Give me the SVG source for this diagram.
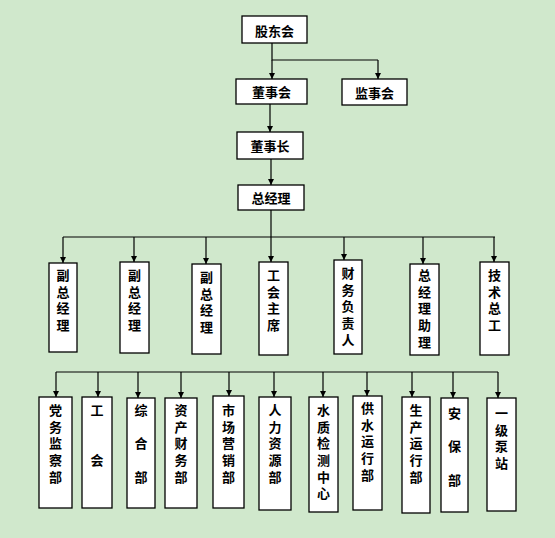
<svg xmlns="http://www.w3.org/2000/svg" width="555" height="538" viewBox="0 0 555 538">
<defs>
<marker id="ah" markerUnits="userSpaceOnUse" markerWidth="7" markerHeight="7" refX="6" refY="3" orient="auto">
<path d="M0,0 L6,3 L0,6 z" fill="#000"/>
</marker>
<style>
.bg{fill:#d0e8cc}
.box{fill:#fff;stroke:#000;stroke-width:1.3}
.t{font-family:"Noto Sans CJK SC","Noto Sans",sans-serif;font-size:13px;font-weight:bold;fill:#000;text-anchor:middle;dominant-baseline:central}
.v{font-family:"Noto Sans CJK SC","Noto Sans",sans-serif;font-size:13px;font-weight:bold;fill:#000;writing-mode:vertical-rl;text-orientation:upright;letter-spacing:3.7px}
.c{fill:none;stroke:#000;stroke-width:1.2}
.a{fill:none;stroke:#000;stroke-width:1.2;marker-end:url(#ah)}
</style>
</defs>
<rect class="bg" x="0" y="0" width="555" height="538"/>
<g id="connectors">
<path class="c" d="M272,43 V60 H378"/>
<path class="a" d="M272,60 V79"/>
<path class="a" d="M378,60 V79"/>
<path class="a" d="M270,104 V132"/>
<path class="a" d="M271,159 V185"/>
<path class="c" d="M271,210 V237"/>
<path class="c" d="M63,237 H495"/>
<path class="a" d="M63,237 V263"/>
<path class="a" d="M134,237 V262"/>
<path class="a" d="M206,237 V264"/>
<path class="a" d="M271,237 V262"/>
<path class="a" d="M344,237 V260"/>
<path class="a" d="M423,237 V264"/>
<path class="a" d="M494,237 V262"/>
<path class="c" d="M56,372 H498"/>
<path class="a" d="M56,372 V397"/>
<path class="a" d="M98,372 V397"/>
<path class="a" d="M138,372 V398"/>
<path class="a" d="M181,372 V398"/>
<path class="a" d="M229,372 V396"/>
<path class="a" d="M274,372 V397"/>
<path class="a" d="M323,372 V397"/>
<path class="a" d="M367,372 V396"/>
<path class="a" d="M412,372 V397"/>
<path class="a" d="M453,372 V398"/>
<path class="a" d="M498,372 V398"/>
</g>
<g id="n-gudonghui"><rect class="box" x="242" y="16" width="65" height="27"/><text class="t" x="274.5" y="30">股东会</text></g>
<g id="n-dongshihui"><rect class="box" x="236" y="79" width="71" height="25"/><text class="t" x="271.5" y="91.5">董事会</text></g>
<g id="n-jianshihui"><rect class="box" x="342" y="79" width="65" height="26"/><text class="t" x="374.5" y="92">监事会</text></g>
<g id="n-dongshizhang"><rect class="box" x="237" y="132" width="66" height="27"/><text class="t" x="270" y="145.5">董事长</text></g>
<g id="n-zongjingli"><rect class="box" x="238" y="185" width="66" height="25"/><text class="t" x="271" y="197.5">总经理</text></g>

<g id="n-fu1"><rect class="box" x="49" y="263" width="28" height="89"/><text class="v" x="63" y="268.5">副总经理</text></g>
<g id="n-fu2"><rect class="box" x="120" y="262" width="29" height="91"/><text class="v" x="134.5" y="268.5">副总经理</text></g>
<g id="n-fu3"><rect class="box" x="192" y="264" width="29" height="90"/><text class="v" x="206.5" y="270.5">副总经理</text></g>
<g id="n-gonghuizhuxi"><rect class="box" x="259" y="262" width="29" height="93"/><text class="v" x="273.5" y="268.5">工会主席</text></g>
<g id="n-caiwu"><rect class="box" x="334" y="260" width="28" height="94"/><text class="v" x="348" y="266.5">财务负责人</text></g>
<g id="n-zhuli"><rect class="box" x="410" y="264" width="29" height="91"/><text class="v" x="424.5" y="268.5">总经理助理</text></g>
<g id="n-jishu"><rect class="box" x="480" y="262" width="29" height="93"/><text class="v" x="494.5" y="268.5">技术总工</text></g>

<g id="n-dangwu"><rect class="box" x="39" y="397" width="33" height="111"/><text class="v" x="55.5" y="403.5">党务监察部</text></g>
<g id="n-gonghui"><rect class="box" x="82" y="397" width="30" height="111"/><text class="v" x="97" y="403.5">工　　会</text></g>
<g id="n-zonghe"><rect class="box" x="127" y="398" width="28" height="110"/><text class="v" x="141" y="403.5">综　合　部</text></g>
<g id="n-zichan"><rect class="box" x="165" y="398" width="32" height="110"/><text class="v" x="181" y="403.5">资产财务部</text></g>
<g id="n-shichang"><rect class="box" x="213" y="396" width="31" height="112"/><text class="v" x="228.5" y="403.5">市场营销部</text></g>
<g id="n-renli"><rect class="box" x="259" y="397" width="32" height="113"/><text class="v" x="275" y="403.5">人力资源部</text></g>
<g id="n-shuizhi"><rect class="box" x="309" y="397" width="29" height="115"/><text class="v" x="323.5" y="403.5">水质检测中心</text></g>
<g id="n-gongshui"><rect class="box" x="353" y="396" width="29" height="114"/><text class="v" x="367.5" y="401.5">供水运行部</text></g>
<g id="n-shengchan"><rect class="box" x="402" y="397" width="28" height="116"/><text class="v" x="416" y="403.5">生产运行部</text></g>
<g id="n-anbao"><rect class="box" x="441" y="398" width="27" height="114"/><text class="v" x="454.5" y="406.5">安　保　部</text></g>
<g id="n-bengzhan"><rect class="box" x="487" y="398" width="29" height="113"/><text class="v" x="501.5" y="406.5">一级泵站</text></g>
</svg>
